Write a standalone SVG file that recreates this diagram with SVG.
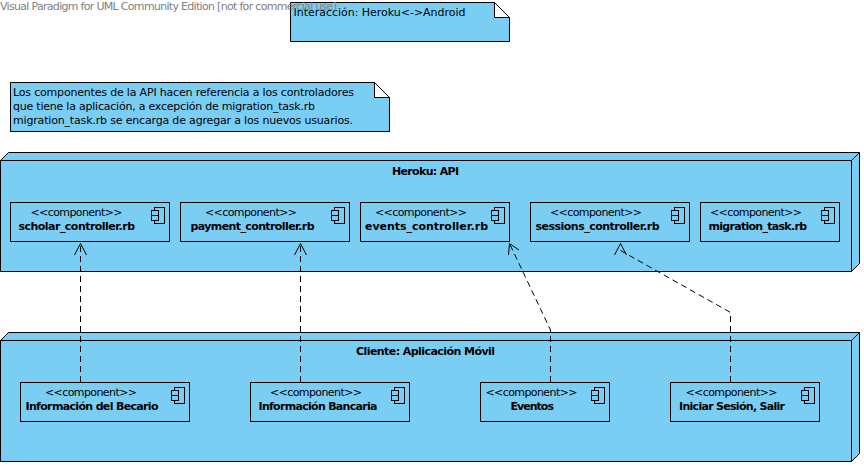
<svg xmlns="http://www.w3.org/2000/svg" width="864" height="466" viewBox="0 0 864 466">
<style>
text{font-family:"DejaVu Sans","Liberation Sans",sans-serif;font-size:11px;fill:#000}
.b{font-weight:bold}
.wm{fill:#808080}
.s{fill:#7acef4;stroke:#000;stroke-width:1}
.f{fill:#fff;stroke:#000;stroke-width:1}
.l{fill:none;stroke:#000;stroke-width:1}
.d{fill:none;stroke:#000;stroke-width:1;stroke-dasharray:6 4}
</style>
<defs>
<g id="icon"><rect class="s" x="-10" y="0" width="10" height="16"/><rect class="s" x="-13" y="3" width="7" height="5"/><rect class="s" x="-13" y="8" width="7" height="5"/></g>
</defs>
<rect width="864" height="466" fill="#fff"/>
<g id="note-interaccion">
<path class="s" d="M290.5 2.500H494.500L509.500 17.500V41.500H290.500Z"/><path class="f" d="M494.500 2.500L509.500 17.500H494.500Z"/>
<text x="293.500" y="16" textLength="172">Interacción: Heroku&lt;-&gt;Android</text>
</g>
<text class="wm" x="0" y="10" textLength="337">Visual Paradigm for UML Community Edition [not for commercial use]</text>
<g id="note-api">
<path class="s" d="M10.500 82.500H374.500L389.500 97.500V131.500H10.500Z"/><path class="f" d="M374.500 82.500L389.500 97.500H374.500Z"/>
<text x="13" y="96" textLength="341">Los componentes de la API hacen referencia a los controladores</text>
<text x="13" y="110" textLength="302">que tiene la aplicación, a excepción de migration_task.rb</text>
<text x="13" y="124" textLength="340">migration_task.rb se encarga de agregar a los nuevos usuarios.</text>
</g>
<g id="node-heroku">
<path class="s" d="M0.500 160.500L8.500 152.500H859.500V263.500L851.500 271.500H0.500Z"/>
<path class="l" d="M0.500 160.500H851.500V271.500M851.500 160.500L859.500 152.500"/>
<text class="b" x="392" y="175" textLength="67">Heroku: API</text>
</g>
<g id="comp-scholar">
<rect class="s" x="10.500" y="202.500" width="159" height="39"/><use href="#icon" x="164.500" y="207.500"/>
<text x="30.500" y="216" textLength="92">&lt;&lt;component&gt;&gt;</text>
<text class="b" x="18.500" y="230" textLength="116.500">scholar_controller.rb</text>
</g>
<g id="comp-payment">
<rect class="s" x="180.500" y="202.500" width="169" height="39"/><use href="#icon" x="344.500" y="207.500"/>
<text x="205" y="216" textLength="92">&lt;&lt;component&gt;&gt;</text>
<text class="b" x="190.500" y="230" textLength="124">payment_controller.rb</text>
</g>
<g id="comp-events">
<rect class="s" x="360.500" y="202.500" width="149" height="39"/><use href="#icon" x="504.500" y="207.500"/>
<text x="375" y="216" textLength="92">&lt;&lt;component&gt;&gt;</text>
<text class="b" x="365" y="230" textLength="123">events_controller.rb</text>
</g>
<g id="comp-sessions">
<rect class="s" x="530.500" y="202.500" width="159" height="39"/><use href="#icon" x="684.500" y="207.500"/>
<text x="550" y="216" textLength="92">&lt;&lt;component&gt;&gt;</text>
<text class="b" x="535.500" y="230" textLength="124">sessions_controller.rb</text>
</g>
<g id="comp-migration">
<rect class="s" x="700.500" y="202.500" width="139" height="39"/><use href="#icon" x="834.500" y="207.500"/>
<text x="710" y="216" textLength="92">&lt;&lt;component&gt;&gt;</text>
<text class="b" x="708.500" y="230" textLength="98.500">migration_task.rb</text>
</g>
<g id="node-cliente">
<path class="s" d="M0.500 340.500L8.500 332.500H859.500V453.500L851.500 461.500H0.500Z"/>
<path class="l" d="M0.500 340.500H851.500V461.500M851.500 340.500L859.500 332.500"/>
<text class="b" x="356" y="355" textLength="139">Cliente: Aplicación Móvil</text>
</g>
<g id="comp-becario">
<rect class="s" x="20.500" y="382.500" width="169" height="39"/><use href="#icon" x="184.500" y="387.500"/>
<text x="45" y="396" textLength="92">&lt;&lt;component&gt;&gt;</text>
<text class="b" x="25.500" y="410" textLength="133">Información del Becario</text>
</g>
<g id="comp-bancaria">
<rect class="s" x="250.500" y="382.500" width="159" height="39"/><use href="#icon" x="404.500" y="387.500"/>
<text x="270" y="396" textLength="92">&lt;&lt;component&gt;&gt;</text>
<text class="b" x="258.500" y="410" textLength="119">Información Bancaria</text>
</g>
<g id="comp-eventos">
<rect class="s" x="480.500" y="382.500" width="129" height="39"/><use href="#icon" x="604.500" y="387.500"/>
<text x="485.500" y="396" textLength="92">&lt;&lt;component&gt;&gt;</text>
<text class="b" x="510.500" y="410" textLength="43.500">Eventos</text>
</g>
<g id="comp-sesion">
<rect class="s" x="670.500" y="382.500" width="149" height="39"/><use href="#icon" x="814.500" y="387.500"/>
<text x="685.500" y="396" textLength="92">&lt;&lt;component&gt;&gt;</text>
<text class="b" x="679" y="410" textLength="106">Iniciar Sesión, Salir</text>
</g>
<g id="connectors">
<path class="d" d="M80.500 382V243.500"/><path class="l" d="M74.500 255L80.500 243.500L86.500 255"/>
<path class="d" d="M300.500 382V243.500"/><path class="l" d="M294.500 255L300.500 243.500L306.500 255"/>
<path class="d" d="M550.500 382V330L509.500 243.500"/><path class="l" d="M508.500 255L509.500 243.500L519 250"/>
<path class="d" d="M730.500 382V312.500L620.500 250.500"/><path class="l" d="M614.500 255L620.500 243.500L626.500 255"/>
</g>
</svg>
